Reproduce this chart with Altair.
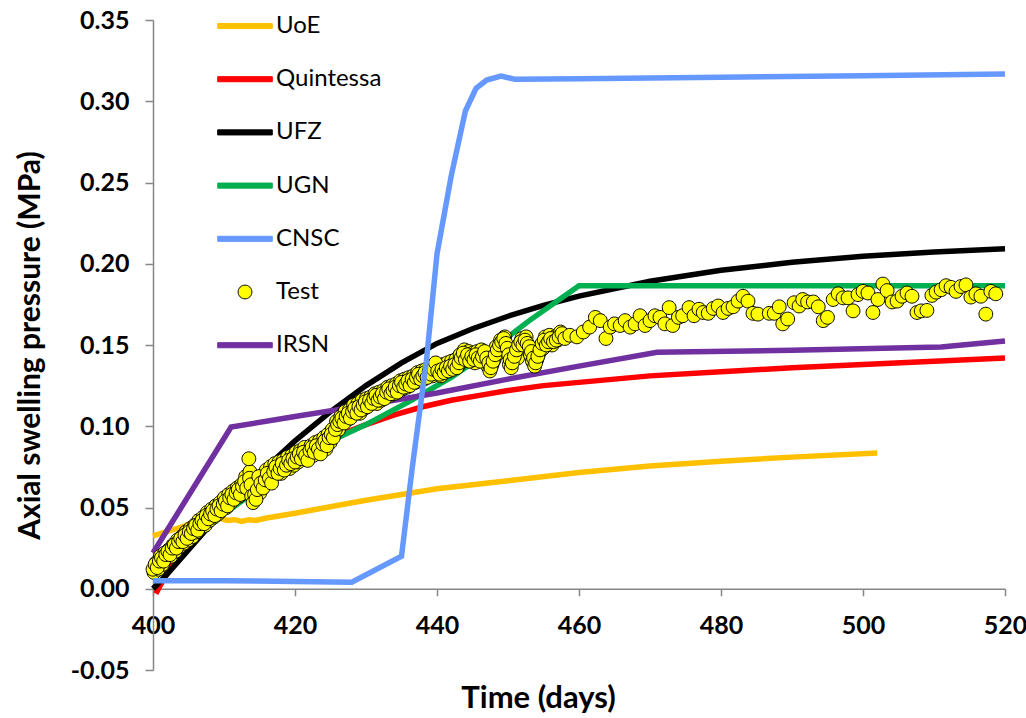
import altair as alt
import pandas as pd

# ---------------- data ----------------
series_names = ["UoE", "Quintessa", "UFZ", "UGN", "CNSC", "Test", "IRSN"]

uoe_t = [400, 404, 407, 409, 410.5, 411.5, 412.5, 413.5, 414.5, 416, 420, 430, 440, 450, 460, 470, 480, 490, 502]
uoe_p = [0.0325, 0.038, 0.043, 0.044, 0.042, 0.0425, 0.0415, 0.0425, 0.042, 0.0435, 0.0465, 0.0545, 0.0615, 0.0665, 0.0715, 0.0755, 0.0785, 0.081, 0.0835]

quin_t = [400.4, 401.5, 403, 406, 410, 415, 420, 424, 427, 430, 434, 438, 442, 446, 450, 455, 460, 470, 480, 490, 500, 510, 520]
quin_p = [-0.003, 0.006, 0.016, 0.032, 0.049, 0.065, 0.079, 0.089, 0.096, 0.101, 0.107, 0.112, 0.116, 0.119, 0.122, 0.125, 0.127, 0.131, 0.1335, 0.136, 0.138, 0.140, 0.142]

ufz_t = [400, 402, 404, 406, 408, 410, 413, 416, 420, 425, 430, 435, 440, 445, 450, 455, 460, 470, 480, 490, 500, 510, 520]
ufz_p = [0.0, 0.009, 0.019, 0.029, 0.039, 0.049, 0.062, 0.075, 0.091, 0.109, 0.125, 0.139, 0.151, 0.1600, 0.1677, 0.1744, 0.1801, 0.1892, 0.1960, 0.2009, 0.2046, 0.2073, 0.2093]

ugn_t = [400, 405, 410, 415, 420, 426, 430, 436, 442, 447, 453, 460, 520]
ugn_p = [0.012, 0.028, 0.046, 0.062, 0.077, 0.093, 0.101, 0.115, 0.130, 0.145, 0.165, 0.1865, 0.1865]

cnsc_t = [400, 410, 420, 428, 435, 436.5, 438.5, 440, 442, 444, 445.5, 447, 449, 451, 460, 480, 500, 520]
cnsc_p = [0.005, 0.005, 0.0045, 0.004, 0.020, 0.074, 0.140, 0.206, 0.254, 0.294, 0.308, 0.313, 0.3155, 0.3135, 0.3138, 0.3148, 0.3157, 0.3167]

irsn_t = [400, 411, 420, 430, 440, 450, 460, 471, 490, 511, 520]
irsn_p = [0.022, 0.0995, 0.106, 0.113, 0.1205, 0.129, 0.137, 0.1455, 0.1468, 0.1488, 0.1525]

# Test readings, first pass
test_t = [
    400.0, 400.3, 400.6, 400.9, 401.2, 401.5, 401.8, 402.1, 402.4, 402.7,
    403.0, 403.3, 403.6, 403.9, 404.2, 404.5, 404.8, 405.1, 405.4, 405.7,
    406.0, 406.3, 406.6, 406.9, 407.2, 407.5, 407.8, 408.1, 408.4, 408.7,
    409.0, 409.3, 409.6, 409.9, 410.2, 410.5, 410.8, 411.1, 411.4, 411.7,
    412.0, 412.3, 412.6, 412.9, 413.2, 413.5, 413.6, 413.8, 413.9, 414.1,
    414.3, 414.5, 414.7, 414.9, 415.2, 415.5, 415.8, 416.1, 416.4, 416.7,
    417.0, 417.3, 417.6, 417.9, 418.2, 418.5, 418.8, 419.1, 419.4, 419.7,
    420.0, 420.3, 420.6, 420.9, 421.2, 421.5, 421.8, 422.1, 422.4, 422.7,
    423.0, 423.3, 423.6, 423.9, 424.2, 424.5, 424.8, 425.1, 425.4, 425.7,
    426.0, 426.3, 426.6, 426.9, 427.2, 427.5, 427.8, 428.1, 428.4, 428.7,
    429.0, 429.3, 429.6, 429.9, 430.2, 430.5, 430.8, 431.1, 431.4, 431.7,
    432.0, 432.3, 432.6, 432.9, 433.2, 433.5, 433.8, 434.1, 434.4, 434.7,
    435.0, 435.3, 435.6, 435.9, 436.2, 436.5, 436.8, 437.1, 437.4, 437.7,
    438.0, 438.3, 438.6, 438.9, 439.2, 439.5, 439.8, 440.1, 440.4, 440.7,
    441.0, 441.3, 441.6, 441.9, 442.2, 442.5, 442.8, 443.1, 443.4, 443.7,
    444.0, 444.3, 444.6, 444.9, 445.2, 445.5, 445.8, 446.1, 446.4, 446.7,
    447.0, 447.3, 447.6, 447.9, 448.2, 448.5, 448.8, 449.1, 449.4, 449.7,
    449.9, 450.1, 450.3, 450.6, 450.9, 451.2, 451.5, 451.8, 452.1, 452.4,
    452.7, 453.0, 453.3, 453.6, 453.9, 454.2, 454.5, 454.8, 455.1, 455.4,
    455.7, 456.0, 456.4, 456.8, 457.2, 457.6, 458.0,
    458.7, 459.7, 460.6, 461.5, 462.3, 463.0, 463.8, 464.4, 465.0, 465.8,
    466.5, 467.2, 467.9, 468.6, 469.3, 470.0, 470.7, 471.4, 472.1, 472.7,
    473.2, 474.0, 474.6, 475.5, 476.2, 476.9, 477.5, 478.2, 478.9, 479.6,
    480.3, 481.0, 481.7, 482.4, 483.1, 483.8, 484.5, 485.2, 486.8, 487.5,
    488.2, 488.7, 489.4, 490.3, 491.0, 491.5, 492.2, 493.0, 493.7, 494.4,
    495.0, 495.8, 496.5, 497.2, 497.9, 498.6, 499.3, 500.0, 500.7, 501.4,
    502.1, 502.8, 503.4, 504.1, 504.8, 505.5, 506.2, 506.9, 507.6, 508.2,
    509.0, 509.7, 510.3, 511.0, 511.7, 512.4, 513.1, 513.8, 514.5, 515.2,
    515.9, 516.6, 517.3, 518.0, 518.7,
]
test_p = [
    0.012, 0.015, 0.013, 0.017, 0.019, 0.017, 0.021, 0.023, 0.021, 0.025,
    0.027, 0.025, 0.029, 0.031, 0.029, 0.033, 0.031, 0.035, 0.034, 0.037,
    0.039, 0.036, 0.040, 0.042, 0.040, 0.045, 0.043, 0.046, 0.048, 0.045,
    0.049, 0.051, 0.048, 0.052, 0.054, 0.051, 0.056, 0.058, 0.055, 0.059,
    0.061, 0.058, 0.063, 0.066, 0.062, 0.080, 0.068, 0.064, 0.057, 0.053,
    0.058, 0.055, 0.061, 0.069, 0.065, 0.062, 0.067, 0.071, 0.068, 0.065,
    0.072, 0.075, 0.071, 0.074, 0.077, 0.073, 0.076, 0.079, 0.077, 0.080,
    0.078, 0.081, 0.083, 0.080, 0.084, 0.082, 0.079, 0.085, 0.087, 0.084,
    0.088, 0.086, 0.083, 0.089, 0.091, 0.088, 0.093, 0.095, 0.093, 0.098,
    0.101, 0.103, 0.105, 0.102, 0.106, 0.108, 0.105, 0.109, 0.111, 0.108,
    0.112, 0.110, 0.113, 0.115, 0.112, 0.116, 0.114, 0.117, 0.119, 0.116,
    0.118, 0.120, 0.117, 0.121, 0.123, 0.120, 0.122, 0.124, 0.121, 0.125,
    0.127, 0.124, 0.126, 0.128, 0.125, 0.129, 0.127, 0.130, 0.132, 0.129,
    0.131, 0.133, 0.130, 0.134, 0.132, 0.135, 0.139, 0.134, 0.132, 0.135,
    0.133, 0.136, 0.134, 0.137, 0.135, 0.138, 0.136, 0.139, 0.142, 0.145,
    0.141, 0.144, 0.140, 0.143, 0.141, 0.144, 0.142, 0.140, 0.143, 0.146,
    0.142, 0.139, 0.136, 0.140, 0.144, 0.147, 0.150, 0.152, 0.154, 0.151,
    0.148, 0.144, 0.141, 0.139, 0.143, 0.147, 0.150, 0.152, 0.150, 0.153,
    0.151, 0.149, 0.146, 0.142, 0.139, 0.143, 0.147, 0.151, 0.153, 0.150,
    0.152, 0.154, 0.152, 0.153, 0.155, 0.157, 0.154,
    0.156, 0.155, 0.158, 0.161, 0.167, 0.165, 0.154, 0.161, 0.163, 0.162,
    0.165, 0.161, 0.163, 0.168, 0.162, 0.165, 0.168, 0.167, 0.163, 0.173,
    0.162, 0.167, 0.168, 0.173, 0.168, 0.172, 0.170, 0.1695, 0.1725, 0.174,
    0.170, 0.1725, 0.1735, 0.177, 0.180, 0.177, 0.1695, 0.169, 0.1695, 0.1695,
    0.1735, 0.163, 0.166, 0.176, 0.174, 0.178, 0.1765, 0.1765, 0.1735, 0.165,
    0.167, 0.178, 0.1815, 0.179, 0.179, 0.171, 0.181, 0.183, 0.182, 0.170,
    0.178, 0.1875, 0.1835, 0.1765, 0.177, 0.180, 0.182, 0.180, 0.170, 0.171,
    0.1713, 0.1805, 0.1825, 0.184, 0.1865, 0.1855, 0.183, 0.186, 0.187, 0.1795,
    0.1815, 0.180, 0.169, 0.183, 0.1815,
]

# Test readings, second pass over the dense early part
test2_t = [
    400.15, 400.45, 400.75, 401.05, 401.35, 401.65, 401.95, 402.25, 402.55, 402.85,
    403.15, 403.45, 403.75, 404.05, 404.35, 404.65, 404.95, 405.25, 405.55, 405.85,
    406.15, 406.45, 406.75, 407.05, 407.35, 407.65, 407.95, 408.25, 408.55, 408.85,
    409.15, 409.45, 409.75, 410.05, 410.35, 410.65, 410.95, 411.25, 411.55, 411.85,
    412.15, 412.45, 412.75, 413.05, 413.35, 413.65, 414.2, 414.4, 414.6, 414.8,
    415.05, 415.35, 415.65, 415.95, 416.25, 416.55, 416.85, 417.15, 417.45, 417.75,
    418.05, 418.35, 418.65, 418.95, 419.25, 419.55, 419.85, 420.15, 420.45, 420.75,
    421.05, 421.35, 421.65, 421.95, 422.25, 422.55, 422.85, 423.15, 423.45, 423.75,
    424.05, 424.35, 424.65, 424.95, 425.25, 425.55, 425.85, 426.15, 426.45, 426.75,
    427.05, 427.35, 427.65, 427.95, 428.25, 428.55, 428.85, 429.15, 429.45, 429.75,
    430.05, 430.35, 430.65, 430.95, 431.25, 431.55, 431.85, 432.15, 432.45, 432.75,
    433.05, 433.35, 433.65, 433.95, 434.25, 434.55, 434.85, 435.15, 435.45, 435.75,
    436.05, 436.35, 436.65, 436.95, 437.25, 437.55, 437.85, 438.15, 438.45, 438.75,
    439.05, 439.35, 439.65, 440.25, 440.55, 440.85, 441.15, 441.45, 441.75, 442.05,
    442.35, 442.65, 442.95, 443.25, 443.55, 443.85, 444.15, 444.45, 444.75, 445.05,
    445.35, 445.65, 445.95, 446.25, 446.55, 446.85, 447.15, 447.45, 447.75, 448.05,
    448.35, 448.65, 448.95, 449.25, 449.55, 450.0, 450.2, 450.45, 450.75, 451.05,
    451.35, 451.65, 451.95, 452.25, 452.55, 452.85, 453.15, 453.45, 453.75, 454.05,
    454.35, 454.65, 454.95, 455.25, 455.55, 455.85, 456.2, 456.6, 457.0, 457.4,
]
test2_p = [
    0.010, 0.016, 0.012, 0.020, 0.015, 0.022, 0.019, 0.024, 0.020, 0.027,
    0.023, 0.030, 0.026, 0.032, 0.028, 0.035, 0.030, 0.037, 0.032, 0.039,
    0.035, 0.042, 0.038, 0.044, 0.039, 0.047, 0.042, 0.049, 0.044, 0.051,
    0.046, 0.053, 0.049, 0.056, 0.050, 0.058, 0.053, 0.060, 0.056, 0.062,
    0.057, 0.064, 0.060, 0.069, 0.064, 0.072, 0.060, 0.063, 0.057, 0.064,
    0.059, 0.069, 0.064, 0.073, 0.070, 0.075, 0.069, 0.077, 0.072, 0.078,
    0.071, 0.079, 0.075, 0.081, 0.074, 0.082, 0.076, 0.084, 0.078, 0.085,
    0.081, 0.087, 0.083, 0.081, 0.088, 0.082, 0.090, 0.085, 0.091, 0.086,
    0.093, 0.086, 0.095, 0.090, 0.098, 0.095, 0.103, 0.098, 0.106, 0.103,
    0.109, 0.104, 0.110, 0.107, 0.113, 0.109, 0.114, 0.108, 0.116, 0.111,
    0.117, 0.113, 0.118, 0.115, 0.120, 0.114, 0.121, 0.116, 0.122, 0.118,
    0.124, 0.119, 0.125, 0.120, 0.126, 0.122, 0.128, 0.123, 0.129, 0.124,
    0.130, 0.126, 0.131, 0.127, 0.133, 0.128, 0.134, 0.129, 0.135, 0.131,
    0.136, 0.131, 0.137, 0.136, 0.131, 0.138, 0.134, 0.139, 0.135, 0.140,
    0.136, 0.141, 0.137, 0.144, 0.140, 0.147, 0.143, 0.146, 0.141, 0.145,
    0.139, 0.146, 0.143, 0.147, 0.141, 0.144, 0.137, 0.134, 0.138, 0.141,
    0.149, 0.145, 0.153, 0.149, 0.155, 0.146, 0.138, 0.136, 0.141, 0.145,
    0.142, 0.149, 0.154, 0.148, 0.155, 0.147, 0.144, 0.140, 0.137, 0.141,
    0.145, 0.149, 0.148, 0.155, 0.151, 0.156, 0.150, 0.155, 0.153, 0.158,
]

# ---------------- styles ----------------
stroke_colors = ["#FFC000", "#FF0000", "#000000", "#00B050", "#6699FF", "#000000", "#7030A0"]
fill_colors = ["#FFC000", "#FF0000", "#000000", "#00B050", "#6699FF", "#FFFF00", "#7030A0"]
LINE_PATH = "M-1.07,-0.1H1.07V0.1H-1.07Z"
DOT_PATH = "M-0.27,0A0.27,0.27 0 1,0 0.27,0A0.27,0.27 0 1,0 -0.27,0Z"
shape_paths = [LINE_PATH, LINE_PATH, LINE_PATH, LINE_PATH, LINE_PATH, DOT_PATH, LINE_PATH]
FONT = "Lato"
SYM = 2601

rows = []
for name, ts, ps in [("UoE", uoe_t, uoe_p), ("Quintessa", quin_t, quin_p), ("UFZ", ufz_t, ufz_p),
                     ("UGN", ugn_t, ugn_p), ("IRSN", irsn_t, irsn_p), ("CNSC", cnsc_t, cnsc_p)]:
    for t, p in zip(ts, ps):
        rows.append({"series": name, "t": t, "p": p})
lines_df = pd.DataFrame(rows)
test_df = pd.DataFrame({"series": "Test", "t": test2_t + test_t, "p": test2_p + test_p})

x_scale = alt.Scale(domain=[400, 520], nice=False, zero=False)
y_scale = alt.Scale(domain=[-0.05, 0.35], nice=False, zero=False)

x_axis = alt.Axis(
    values=[400, 420, 440, 460, 480, 500, 520], format="d", grid=False,
    offset=-81.25, tickSize=7, tickColor="#868686", domainColor="#868686", domainWidth=1.5,
    tickWidth=1.5, labelFont=FONT, labelFontWeight="bold", labelFontSize=25, labelColor="black",
    labelPadding=18, labelFlush=False, title="Time (days)", titleFont=FONT, titleFontSize=31,
    titleFontWeight="bold", titleColor="black", titleX=385, titleY=110,
    titleBaseline="middle", titleAlign="center",
)
y_axis = alt.Axis(
    values=[-0.05, 0.0, 0.05, 0.1, 0.15, 0.2, 0.25, 0.3, 0.35], grid=False,
    labelExpr="datum.value < -0.0001 ? '-' + format(-datum.value, '.2f') : format(abs(datum.value), '.2f')",
    tickSize=8, tickColor="#868686", domainColor="#868686", domainWidth=1.5, tickWidth=1.5,
    labelFont=FONT, labelFontWeight="bold", labelFontSize=25, labelColor="black",
    labelPadding=16, labelFlush=False, title="Axial swelling pressure (MPa)", titleFont=FONT,
    titleFontSize=30, titleFontWeight="bold", titleColor="black", titleX=-123, titleY=325,
    titleBaseline="middle", titleAlign="center", titleAngle=270,
)

legend = alt.Legend(
    title=None, orient="none", legendX=66, legendY=-20, padding=0, rowPadding=15.2,
    symbolSize=SYM, symbolStrokeWidth=1, symbolFillColor="#FFFF00", symbolStrokeColor="#000000",
    symbolOpacity=1, symbolOffset=0, labelOffset=5, labelFont=FONT, labelFontSize=24,
    labelColor="black", labelLimit=300,
)
stroke_scale = alt.Scale(domain=series_names, range=stroke_colors)
fill_scale = alt.Scale(domain=series_names, range=fill_colors)
shape_scale = alt.Scale(domain=series_names, range=shape_paths)

X = alt.X("t:Q", scale=x_scale, axis=x_axis)
Y = alt.Y("p:Q", scale=y_scale, axis=y_axis)

lines = alt.Chart(lines_df).transform_filter("datum.series != 'CNSC'").mark_line().encode(
    x=X, y=Y,
    stroke=alt.Stroke("series:N", scale=stroke_scale, legend=legend),
    strokeWidth=alt.value(5.5),
)
cnsc = alt.Chart(lines_df).transform_filter("datum.series == 'CNSC'").mark_line().encode(
    x=X, y=Y,
    stroke=alt.Stroke("series:N", scale=stroke_scale, legend=legend),
    strokeWidth=alt.value(5.5),
)
points = alt.Chart(test_df).mark_point(filled=True, size=SYM, strokeWidth=1, opacity=1).encode(
    x=X, y=Y,
    fill=alt.Fill("series:N", scale=fill_scale, legend=legend),
    stroke=alt.Stroke("series:N", scale=stroke_scale, legend=legend),
    shape=alt.Shape("series:N", scale=shape_scale, legend=legend),
)

chart = alt.layer(lines, points, cnsc).properties(
    width=852, height=650,
    autosize=alt.AutoSizeParams(type="none"),
    padding={"left": 153, "top": 20, "right": 21, "bottom": 48},
    background="white",
).configure_view(stroke=None)

chart.save("out.html", embed_options={"renderer": "svg", "actions": False})
